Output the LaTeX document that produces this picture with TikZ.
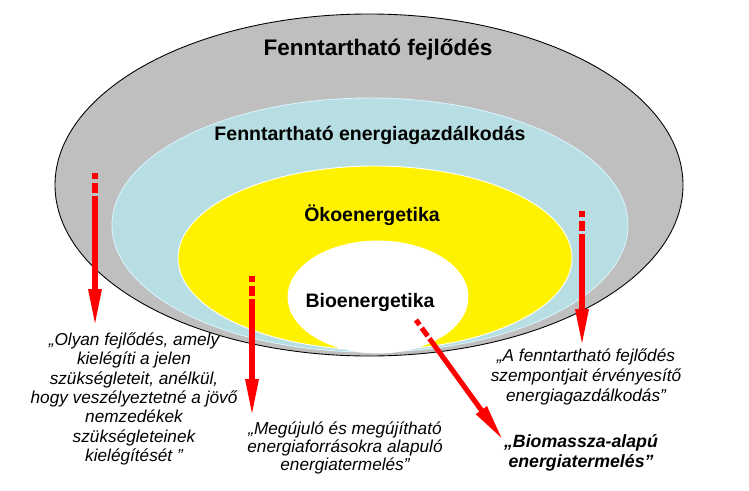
\documentclass[tikz,border=0pt]{standalone}
\usepackage{fontspec}
\setmainfont{Liberation Sans}
\usetikzlibrary{arrows.meta}

\begin{document}
\begin{tikzpicture}[x=0.02cm, y=-0.02cm,
  title/.style={font=\bfseries\fontsize{11.1}{13}\selectfont},
  quote/.style={font=\itshape\fontsize{9.8}{10.2}\selectfont, align=center},
  pointer/.style={line width=2.9pt, red, dash pattern=on 3.4pt off 2.2pt on 5.7pt off 1.7pt on 400pt,
    -{Triangle[length=21pt, width=7pt]}}]
\useasboundingbox (0,0) rectangle (749,490);
% nested fields
\draw[line width=0.5pt, fill=black!25] (369,185) ellipse [x radius=314, y radius=171];
\draw[line width=0.5pt, draw=white!85!cyan, fill={rgb,255:red,183;green,222;blue,226}] (370,225) ellipse [x radius=258, y radius=127];
\draw[line width=0.5pt, draw=white, fill=yellow] (375,258) ellipse [x radius=197, y radius=92];
\draw[line width=0.5pt, draw=white, fill=white] (378,297) ellipse [x radius=90, y radius=56];
\node[title, font=\bfseries\fontsize{12.8}{14}\selectfont] (ff) at (378,50) {Fenntartható fejlődés};
\node[title] (fe) at (370,135) {Fenntartható energiagazdálkodás};
\node[title] (oe) at (372,215) {Ökoenergetika};
\node[title] (be) at (370,302) {Bioenergetika};
% definitions
\node[quote, font=\itshape\fontsize{9.8}{11.05}\selectfont] (q1) at (134,399) {„Olyan fejlődés, amely\\kielégíti a jelen\\szükségleteit, anélkül,\\hogy veszélyeztetné a jövő\\nemzedékek\\szükségleteinek\\kielégítését ”};
\node[quote] (q2) at (345,448) {„Megújuló és megújítható\\energiaforrásokra alapuló\\energiatermelés”};
\node[quote, font=\itshape\fontsize{9.8}{11.3}\selectfont] (q3) at (586,377) {„A fenntartható fejlődés\\szempontjait érvényesítő\\energiagazdálkodás”};
\node[quote, font=\bfseries\itshape\fontsize{10.1}{11.3}\selectfont] (q4) at (581,453) {„Biomassza-alapú\\energiatermelés”};
% pointers
\coordinate (s1) at (95,173);
\coordinate (e1) at (95,326);
\coordinate (s2) at (252,276);
\coordinate (e2) at (252,416);
\coordinate (s3) at (582,211);
\coordinate (e3) at (582,346);
\coordinate (s4) at (416,320);
\coordinate (e4) at (503,440);
\draw[pointer] (s1) -- (e1);
\draw[pointer] (s2) -- (e2);
\draw[pointer] (s3) -- (e3);
\draw[pointer] (s4) -- (e4);
\end{tikzpicture}
\end{document}
